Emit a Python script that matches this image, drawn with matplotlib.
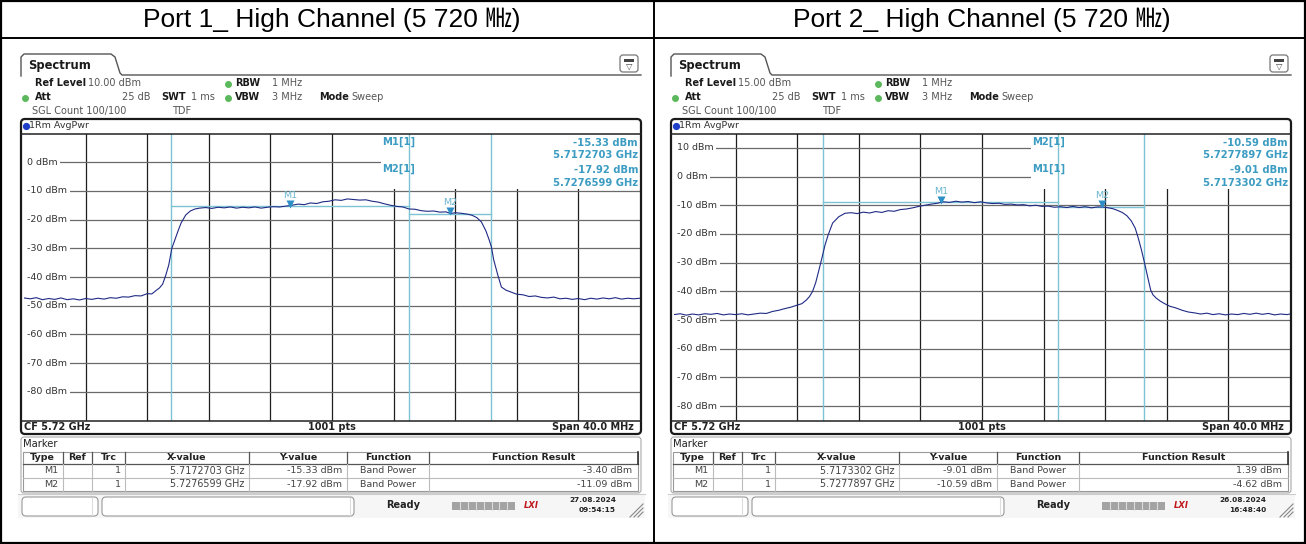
import matplotlib.pyplot as plt
from matplotlib.patches import FancyBboxPatch, Rectangle

W, H = 1306, 544

titles = ["Port 1_ High Channel (5 720 \u3392)", "Port 2_ High Channel (5 720 \u3392)"]
ref_levels = [10.0, 15.0]
start_mhz, stop_mhz = 5700.0, 5740.0

# trace values: offset from 5700 MHz, level in dBm
p1_mhz = [0.0, 0.4, 0.8, 1.2, 1.6, 2.0, 2.4, 2.8, 3.2, 3.6, 4.0, 4.4, 4.8, 5.2, 5.6, 6.0,
          6.4, 6.8, 7.2, 7.6, 8.0, 8.3, 8.6, 8.8, 9.0, 9.2, 9.4, 9.6, 9.8, 10.0, 10.2,
          10.5, 10.8, 11.1, 11.4, 11.8, 12.2, 12.6, 13.0, 13.4, 13.8, 14.2, 14.6, 15.0,
          15.4, 15.8, 16.2, 16.6, 17.0, 17.4, 17.8, 18.2, 18.6, 19.0, 19.4, 19.8, 20.2,
          20.6, 21.0, 21.4, 21.8, 22.2, 22.6, 23.0, 23.4, 23.8, 24.2, 24.6, 25.0, 25.4,
          25.8, 26.2, 26.6, 27.0, 27.4, 27.7, 28.0, 28.4, 28.8, 29.1, 29.4, 29.7, 30.0,
          30.2, 30.35, 30.5, 30.75, 31.0, 31.3, 31.6, 32.0, 32.4, 32.8, 33.2, 33.6, 34.0,
          34.4, 34.8, 35.2, 35.6, 36.0, 36.4, 36.8, 37.2, 37.6, 38.0, 38.4, 38.8, 39.2,
          39.6, 40.0]
p1_dbm = [-47.3, -47.6, -47.2, -47.9, -47.5, -47.8, -47.3, -47.9, -47.6, -48.0, -47.5,
          -47.8, -47.4, -47.7, -47.2, -47.4, -46.9, -47.0, -46.5, -46.6, -45.8, -45.9,
          -44.6, -43.8, -42.5, -39.5, -35.8, -30.0, -27.0, -24.0, -21.2, -18.4, -17.0,
          -16.3, -16.0, -15.8, -16.1, -15.7, -15.9, -15.6, -16.0, -15.7, -15.9, -15.6,
          -16.0, -15.7, -15.5, -15.6, -15.3, -15.0, -14.6, -14.8, -14.2, -14.4, -13.8,
          -13.6, -13.1, -13.3, -12.8, -13.0, -13.2, -13.1, -13.6, -13.9, -14.5, -15.0,
          -15.4, -15.6, -16.3, -16.4, -16.9, -17.1, -17.0, -17.4, -17.3, -17.9, -17.6,
          -17.8, -18.1, -18.5, -19.3, -20.8, -24.0, -27.0, -29.5, -34.0, -39.0, -43.5,
          -44.6, -45.2, -46.0, -46.2, -46.8, -46.6, -47.1, -47.3, -47.0, -47.6, -47.4,
          -47.8, -47.5, -47.9, -47.4, -47.7, -47.3, -47.6, -47.2, -47.7, -47.4, -47.6,
          -47.4]

p2_mhz = [0.0, 0.4, 0.8, 1.2, 1.6, 2.0, 2.4, 2.8, 3.2, 3.6, 4.0, 4.4, 4.8, 5.2, 5.6, 6.0,
          6.4, 6.8, 7.2, 7.6, 8.0, 8.3, 8.6, 8.8, 9.0, 9.2, 9.4, 9.6, 9.8, 10.0, 10.3,
          10.7, 11.1, 11.5, 11.9, 12.3, 12.7, 13.1, 13.5, 13.9, 14.3, 14.7, 15.1, 15.5,
          15.9, 16.3, 16.7, 17.1, 17.5, 17.9, 18.3, 18.7, 19.1, 19.5, 19.9, 20.3, 20.7,
          21.1, 21.5, 21.9, 22.3, 22.7, 23.1, 23.5, 23.9, 24.3, 24.7, 25.1, 25.5, 25.9,
          26.3, 26.7, 27.1, 27.5, 27.8, 28.1, 28.5, 28.8, 29.1, 29.4, 29.7, 29.95, 30.15,
          30.35, 30.55, 30.75, 30.95, 31.1, 31.3, 31.6, 31.9, 32.2, 32.6, 33.0, 33.4,
          33.8, 34.2, 34.6, 35.0, 35.4, 35.8, 36.2, 36.6, 37.0, 37.4, 37.8, 38.2, 38.6,
          39.0, 39.4, 39.8, 40.0]
p2_dbm = [-48.1, -47.8, -48.3, -47.9, -48.2, -47.8, -48.0, -47.7, -48.2, -47.9, -48.1,
          -47.8, -48.2, -47.9, -47.6, -47.7, -47.0, -46.6, -46.0, -45.5, -44.8, -44.3,
          -43.0, -41.8, -40.0, -37.0, -32.8, -28.5, -24.0, -20.5, -16.2, -14.0, -12.8,
          -12.6, -12.9, -12.4, -12.7, -12.2, -12.5, -11.9, -12.1, -11.5, -11.3, -10.9,
          -10.4, -10.0, -9.6, -9.3, -8.8, -9.0, -8.6, -8.9, -8.7, -9.1, -8.8, -9.2, -9.4,
          -9.3, -9.7, -9.6, -9.9, -9.8, -10.2, -10.0, -10.4, -10.3, -10.7, -10.5, -10.8,
          -10.4, -10.8, -10.5, -10.9, -10.6, -10.6, -10.8, -11.2, -11.8, -12.5, -13.6,
          -15.5, -18.0, -21.5, -25.5, -30.0, -34.8, -39.5, -41.2, -42.3, -43.5, -44.4,
          -45.2, -45.8, -46.6, -47.2, -47.5, -47.9, -47.6, -48.1, -47.8, -48.2, -47.9,
          -48.1, -47.7, -48.0, -47.6, -48.0, -47.7, -48.2, -47.9, -48.1, -47.9]

marker_names = ["M1", "M2"]
p1_mk_ghz = [5.7172703, 5.7276599]
p1_mk_dbm = [-15.33, -17.92]
p1_result = [-3.40, -11.09]
p1_edges = [5709.55, 5725.0, 5730.3]   # band power limits (MHz)
p2_mk_ghz = [5.7173302, 5.7277897]
p2_mk_dbm = [-9.01, -10.59]
p2_result = [1.39, -4.62]
p2_edges = [5709.65, 5724.95, 5730.5]
readout_order = [[0, 1], [1, 0]]
stamps = [("27.08.2024", "09:54:15"), ("26.08.2024", "16:48:40")]

CYAN = '#3c9cc2'
FONT = 'DejaVu Sans'

fig = plt.figure(figsize=(W / 100, H / 100), dpi=100)
fig.patch.set_facecolor('white')


def draw_panel(x0, ref, mhz, dbm, mk_ghz, mk_dbm, edges):
    pl, pr, pt, pb = x0 + 24, x0 + 640, 133.5, 420.5
    ax = fig.add_axes([pl / W, 1 - pb / H, (pr - pl) / W, (pb - pt) / H])
    ax.set_xlim(start_mhz, stop_mhz)
    ax.set_ylim(ref - 100, ref)
    ax.axis('off')

    for f in range(5704, 5740, 4):
        ax.axvline(f, color='#1e1e1e', lw=0.9, zorder=1)
    top_lv = int((ref - 1) // 10 * 10)
    for lv in range(top_lv, -90, -10):
        ax.axhline(lv, color='#6a6a6a', lw=0.9, zorder=1)
        ax.text(5700.18, lv, f"{lv} dBm", fontsize=6.8, va='center', ha='left', color='#333333',
                bbox=dict(fc='white', ec='none', pad=2.0), zorder=3)
    # area hidden behind the marker readout
    ax.add_patch(Rectangle((5723.2, ref - 19.3), 20, 25, fc='white', ec='none', zorder=2))

    for e in edges:
        ax.axvline(e, color='#7cc4d4', lw=1.0, zorder=3)
    ax.plot([edges[0], edges[1]], [mk_dbm[0]] * 2, color='#7cc4d4', lw=1.0, zorder=3)
    ax.plot([edges[1], edges[2]], [mk_dbm[1]] * 2, color='#7cc4d4', lw=1.0, zorder=3)

    ax.plot([start_mhz + m for m in mhz], dbm, color='#1f2a85', lw=0.8, zorder=4)

    for name, g, d in zip(marker_names, mk_ghz, mk_dbm):
        ax.plot(g * 1000, d + 0.9, marker='v', ms=5.5, color='#2d8fc6', mec='none', zorder=6)
        ax.annotate(name, (g * 1000, d), xytext=(0, 8), textcoords='offset points', ha='center',
                    va='center', fontsize=6.8, color='#6bb6cf', zorder=6)
    return pl, pr


panels = [(0, p1_mhz, p1_dbm, p1_mk_ghz, p1_mk_dbm, p1_edges),
          (650, p2_mhz, p2_dbm, p2_mk_ghz, p2_mk_dbm, p2_edges)]
plot_bounds = []
for i, (x0, mhz, dbm, mg, md, edg) in enumerate(panels):
    plot_bounds.append(draw_panel(x0, ref_levels[i], mhz, dbm, mg, md, edg))

# pixel overlay for the table and the instrument chrome
ov = fig.add_axes([0, 0, 1, 1])
ov.set_xlim(0, W)
ov.set_ylim(H, 0)
ov.axis('off')


def t(x, y, s, **kw):
    kw.setdefault('fontsize', 7)
    kw.setdefault('va', 'center')
    kw.setdefault('family', FONT)
    ov.text(x, y, s, **kw)


# outer table
ov.add_patch(Rectangle((1, 1), W - 2, H - 2, fc='none', ec='black', lw=1.6))
ov.plot([1, W - 1], [38, 38], color='black', lw=1.4)
ov.plot([654, 654], [1, H - 1], color='black', lw=1.4)

for i, x0 in enumerate([0, 650]):
    pl, pr = plot_bounds[i]
    t(332 + x0, 19.5, titles[i], fontsize=19, ha='center',
      family=['Liberation Sans', 'Noto Sans CJK KR'], color='black')

    # tab
    tx = [21, 21, 24, 111, 115, 120, 122, 641]
    ty = [76, 57, 54, 54, 57, 73, 75, 75]
    ov.plot([x0 + v for v in tx], ty, color='#555555', lw=1.0)
    t(x0 + 28, 65.5, "Spectrum", fontsize=8.3, fontweight='bold', color='#1a1a1a')
    ov.add_patch(FancyBboxPatch((x0 + 620, 55), 18, 17, boxstyle='round,pad=0,rounding_size=3',
                                fc='white', ec='#777777', lw=0.9))
    ov.add_patch(Rectangle((x0 + 624, 58.5), 10, 3, fc='#444444', ec='none'))
    t(x0 + 629, 66.5, "\u25bd", fontsize=6, ha='center', color='#444444')

    # settings block
    g = '#5cb85c'
    t(x0 + 35, 83.5, "Ref Level", fontweight='bold', color='#1a1a1a')
    t(x0 + 88, 83.5, f"{ref_levels[i]:.2f} dBm", color='#555555')
    ov.plot(x0 + 228, 83.5, 'o', ms=4, color=g)
    t(x0 + 235, 83.5, "RBW", fontweight='bold', color='#1a1a1a')
    t(x0 + 272, 83.5, "1 MHz", color='#555555')
    ov.plot(x0 + 25, 97.5, 'o', ms=4, color=g)
    t(x0 + 35, 97.5, "Att", fontweight='bold', color='#1a1a1a')
    t(x0 + 150, 97.5, "25 dB", ha='right', color='#555555')
    t(x0 + 161, 97.5, "SWT", fontweight='bold', color='#1a1a1a')
    t(x0 + 191, 97.5, "1 ms", color='#555555')
    ov.plot(x0 + 228, 97.5, 'o', ms=4, color=g)
    t(x0 + 235, 97.5, "VBW", fontweight='bold', color='#1a1a1a')
    t(x0 + 272, 97.5, "3 MHz", color='#555555')
    t(x0 + 319, 97.5, "Mode", fontweight='bold', color='#1a1a1a')
    t(x0 + 351, 97.5, "Sweep", color='#555555')
    t(x0 + 32, 111, "SGL Count 100/100", color='#555555')
    t(x0 + 172, 111, "TDF", color='#555555')

    # trace window
    ov.add_patch(FancyBboxPatch((x0 + 21, 119), 620, 315, boxstyle='round,pad=0,rounding_size=4',
                                fc='none', ec='#1a1a1a', lw=1.6))
    ov.plot([x0 + 21, x0 + 641], [133.5, 133.5], color='#222222', lw=1.1)
    ov.plot([x0 + 21, x0 + 641], [420.5, 420.5], color='#222222', lw=1.1)
    ov.plot(x0 + 25.5, 126, 'o', ms=4.2, color='#1f3fc8')
    t(x0 + 29, 126, "1Rm AvgPwr", fontsize=6.8, color='#333333')
    t(x0 + 24, 427.5, "CF 5.72 GHz", fontweight='bold', color='#222222')
    t((pl + pr) / 2, 427.5, "1001 pts", fontweight='bold', ha='center', color='#222222')
    t(pr - 6, 427.5, "Span 40.0 MHz", fontweight='bold', ha='right', color='#222222')

    # marker readout in the diagram
    gh = [p1_mk_ghz, p2_mk_ghz][i]
    db = [p1_mk_dbm, p2_mk_dbm][i]
    for row, k in enumerate(readout_order[i]):
        yb = 142 + row * 27
        t(pl + 375, yb, f"{marker_names[k]}[1]", fontsize=7.2, fontweight='bold',
          ha='center', color=CYAN)
        t(pr - 2, yb + 1, f"{db[k]:.2f} dBm", fontsize=7.2, fontweight='bold', ha='right',
          color=CYAN)
        t(pr - 2, yb + 13.5, f"{gh[k]:.7f} GHz", fontsize=7.2, fontweight='bold', ha='right',
          color=CYAN)

    # marker table
    ov.add_patch(FancyBboxPatch((x0 + 21, 437), 620, 56, boxstyle='round,pad=0,rounding_size=3',
                                fc='none', ec='#aaaaaa', lw=0.8))
    t(x0 + 23, 444, "Marker", fontsize=7.2, color='#222222')
    cols = [23, 62.5, 92, 125, 249, 347, 429, 638]
    ov.add_patch(Rectangle((x0 + 23, 452), 615, 39, fc='none', ec='#999999', lw=0.8))
    ov.plot([x0 + 23, x0 + 638], [464, 464], color='#555555', lw=0.9)
    ov.plot([x0 + 23, x0 + 638], [477.5, 477.5], color='#bbbbbb', lw=0.8)
    for c in cols[1:-1]:
        ov.plot([x0 + c, x0 + c], [452, 464], color='#555555', lw=0.9)
        ov.plot([x0 + c, x0 + c], [464, 491], color='#bbbbbb', lw=0.8)
    ov.plot([x0 + 638, x0 + 638], [452, 464], color='#333333', lw=1.2)
    heads = ["Type", "Ref", "Trc", "X-value", "Y-value", "Function", "Function Result"]
    for k, hd in enumerate(heads):
        t(x0 + (cols[k] + cols[k + 1]) / 2, 458, hd, fontsize=6.8, fontweight='bold',
          ha='center', color='#222222')
    res = [p1_result, p2_result][i]
    for k in range(2):
        y = 470.8 + k * 13.3
        t(x0 + 58, y, marker_names[k], fontsize=6.8, ha='right', color='#444444')
        t(x0 + 121, y, "1", fontsize=6.8, ha='right', color='#444444')
        t(x0 + 244, y, f"{gh[k]:.7f} GHz", fontsize=6.9, ha='right', color='#444444')
        t(x0 + 342, y, f"{db[k]:.2f} dBm", fontsize=6.8, ha='right', color='#444444')
        t(x0 + 388, y, "Band Power", fontsize=6.8, ha='center', color='#444444')
        t(x0 + 632, y, f"{res[k]:.2f} dBm", fontsize=6.8, ha='right', color='#444444')

    # status bar
    ov.add_patch(Rectangle((x0 + 18, 494), 627, 24, fc='#f6f6f6', ec='none'))
    ov.plot([x0 + 18, x0 + 645], [494, 494], color='#cccccc', lw=0.8)
    ov.add_patch(FancyBboxPatch((x0 + 22, 497), 76, 19, boxstyle='round,pad=0,rounding_size=4',
                                fc='white', ec='#999999', lw=0.8))
    ov.plot([x0 + 92, x0 + 92], [498, 515], color='#dddddd', lw=0.8)
    ov.add_patch(FancyBboxPatch((x0 + 102, 497), 252, 19, boxstyle='round,pad=0,rounding_size=4',
                                fc='white', ec='#999999', lw=0.8))
    ov.plot([x0 + 350, x0 + 350], [498, 515], color='#dddddd', lw=0.8)
    t(x0 + 403, 505.5, "Ready", fontweight='bold', ha='center', color='#222222')
    ov.add_patch(Rectangle((x0 + 452, 501.5), 63, 8.5, fc='#a3a3a3', ec='none'))
    for k in range(1, 8):
        ov.plot([x0 + 452 + k * 7.9] * 2, [501.5, 510], color='#dcdcdc', lw=0.8)
    t(x0 + 531, 505.5, "LXI", fontsize=6, fontweight='bold', style='italic', ha='center',
      color='#c0181e')
    t(x0 + 616, 500.5, stamps[i][0], fontsize=5.3, fontweight='bold', ha='right',
      color='#222222')
    t(x0 + 616, 509.5, stamps[i][1], fontsize=5.3, fontweight='bold', ha='right', color='#222222')
    for k in range(3):
        ov.plot([x0 + 630 + k * 4, x0 + 643], [517, 504 + k * 4], color='#888888', lw=0.8)

fig.savefig('out.png', dpi=100, facecolor='white')
